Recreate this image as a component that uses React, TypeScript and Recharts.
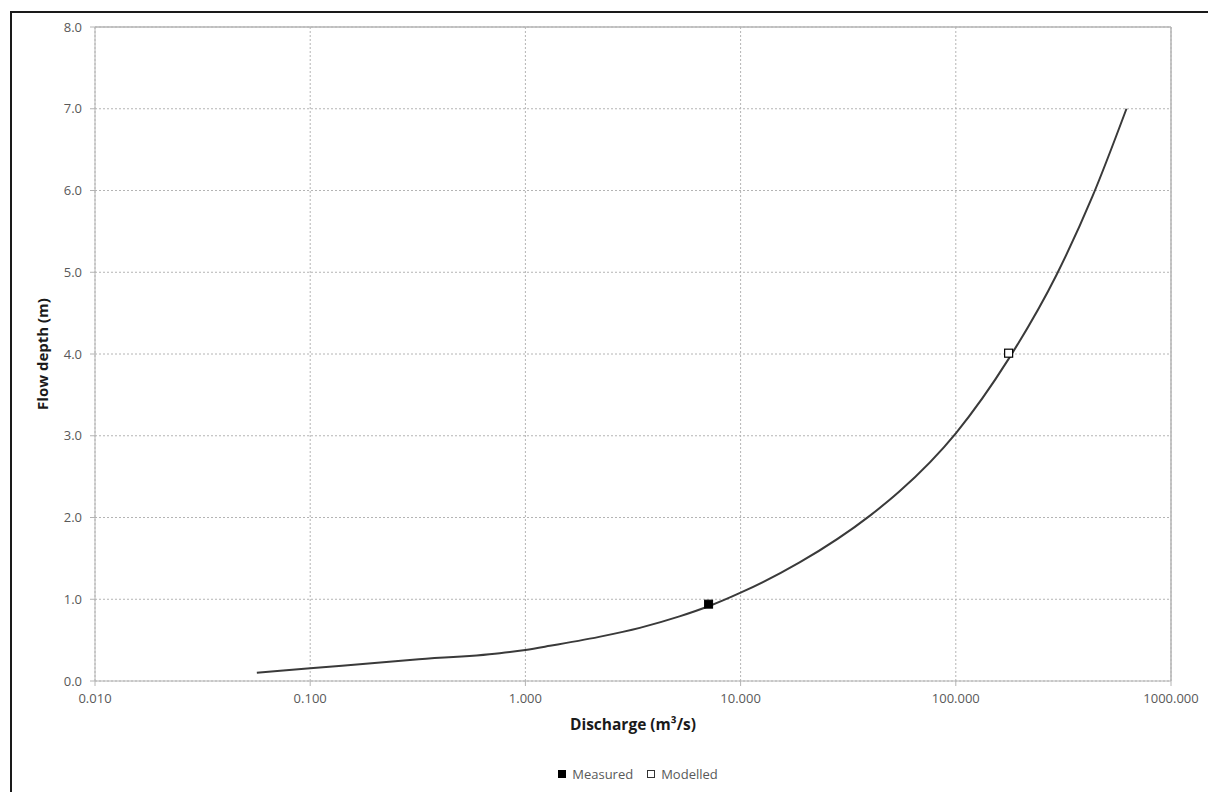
import React from "react";
import {
  ComposedChart,
  Line,
  Scatter,
  XAxis,
  YAxis,
  CartesianGrid,
  ReferenceLine,
  Legend,
} from "recharts";

// Rating curve: discharge (m³/s) vs flow depth (m)
const curveDischarge = [0.0565, 0.1, 0.3, 0.76, 1.0, 1.3, 2.2, 3.4, 5.2, 7.2, 10, 18.8, 39.8, 54.8, 100, 176, 294, 432, 621];
const curveDepth = [0.10, 0.155, 0.26, 0.34, 0.38, 0.43, 0.54, 0.65, 0.79, 0.92, 1.08, 1.45, 2.02, 2.32, 3.03, 3.94, 4.97, 5.93, 7.0];

const measuredDischarge = [7.1];
const measuredDepth = [0.94];
const modelledDischarge = [176];
const modelledDepth = [4.01];

const xTicks = [0.01, 0.1, 1, 10, 100, 1000];
const yTicks = [0, 1, 2, 3, 4, 5, 6, 7, 8];

const curveData = curveDischarge.map((q, i) => ({ q, d: curveDepth[i] }));
const measuredData = measuredDischarge.map((q, i) => ({ q, d: measuredDepth[i] }));
const modelledData = modelledDischarge.map((q, i) => ({ q, d: modelledDepth[i] }));

const FONT = "'Open Sans', 'DejaVu Sans', sans-serif";
const TICK_COLOR = "#595959";
const GRID = "#b4b4b4";

const SquareFilled = (props: any) => {
  const { cx, cy } = props;
  if (cx == null || cy == null) return null;
  return <rect x={cx - 4} y={cy - 4} width={8} height={8} fill="#000" stroke="#000" strokeWidth={1} />;
};

const SquareOpen = (props: any) => {
  const { cx, cy } = props;
  if (cx == null || cy == null) return null;
  return <rect x={cx - 4} y={cy - 4} width={8} height={8} fill="#fff" stroke="#000" strokeWidth={1.2} />;
};

const formatX = (v: number) => v.toFixed(3);
const formatY = (v: number) => v.toFixed(1);

const LegendContent = () => (
  <div
    style={{
      display: "flex",
      justifyContent: "center",
      alignItems: "center",
      fontFamily: FONT,
      fontSize: 13,
      color: TICK_COLOR,
      gap: 14,
      paddingLeft: 70,
      lineHeight: "20px",
    }}
  >
    <span style={{ display: "flex", alignItems: "center", gap: 6 }}>
      <svg width={8} height={8}>
        <rect x={0.5} y={0.5} width={7} height={7} fill="#000" stroke="#000" />
      </svg>
      Measured
    </span>
    <span style={{ display: "flex", alignItems: "center", gap: 6 }}>
      <svg width={8} height={8}>
        <rect x={0.5} y={0.5} width={7} height={7} fill="#fff" stroke="#333" />
      </svg>
      Modelled
    </span>
  </div>
);

export default function App() {
  return (
    <div
      style={{
        position: "absolute",
        left: 0,
        top: 0,
        width: 1208,
        height: 792,
        overflow: "hidden",
        background: "#fff",
      }}
    >
      <div
        style={{
          position: "absolute",
          left: 10,
          top: 11,
          width: 1230,
          height: 810,
          border: "2px solid #1a1a1a",
          boxSizing: "border-box",
        }}
      />
      <div style={{ position: "absolute", left: 0, top: 0 }}>
        <ComposedChart
          width={1208}
          height={792}
          margin={{ top: 27, right: 37, left: 35, bottom: 8 }}
        >
          <CartesianGrid stroke={GRID} strokeDasharray="2 2" />
          <XAxis
            dataKey="q"
            type="number"
            scale="log"
            domain={[0.01, 1000]}
            ticks={xTicks}
            allowDataOverflow
            tickFormatter={formatX}
            tick={{ fill: TICK_COLOR, fontSize: 13, fontFamily: FONT }}
            tickLine={{ stroke: GRID }}
            tickSize={5}
            tickMargin={8}
            axisLine={{ stroke: GRID }}
            height={83}
            label={{
              value: "Discharge (m³/s)",
              position: "insideBottom",
              offset: 34,
              style: { fill: "#1a1a1a", fontWeight: 700, fontSize: 15.5, fontFamily: FONT },
            }}
          />
          <YAxis
            type="number"
            domain={[0, 8]}
            ticks={yTicks}
            tickFormatter={formatY}
            tick={{ fill: TICK_COLOR, fontSize: 13, fontFamily: FONT }}
            tickLine={{ stroke: GRID }}
            tickSize={5}
            tickMargin={8}
            axisLine={{ stroke: GRID }}
            width={60}
            label={{
              value: "Flow depth (m)",
              angle: -90,
              position: "insideLeft",
              offset: 8,
              style: { fill: "#1a1a1a", fontWeight: 700, fontSize: 15, fontFamily: FONT, textAnchor: "middle" },
            }}
          />
          <ReferenceLine y={8} stroke={GRID} strokeWidth={1.5} />
          <ReferenceLine x={1000} stroke={GRID} strokeWidth={1.5} />
          <Legend verticalAlign="bottom" height={20} content={<LegendContent />} />
          <Line
            data={curveData}
            dataKey="d"
            type="monotone"
            stroke="#3a3a3a"
            strokeWidth={2}
            dot={false}
            activeDot={false}
            isAnimationActive={false}
            legendType="none"
          />
          <Scatter
            name="Measured"
            data={measuredData}
            dataKey="d"
            shape={SquareFilled}
            isAnimationActive={false}
          />
          <Scatter
            name="Modelled"
            data={modelledData}
            dataKey="d"
            shape={SquareOpen}
            isAnimationActive={false}
          />
        </ComposedChart>
      </div>
    </div>
  );
}
